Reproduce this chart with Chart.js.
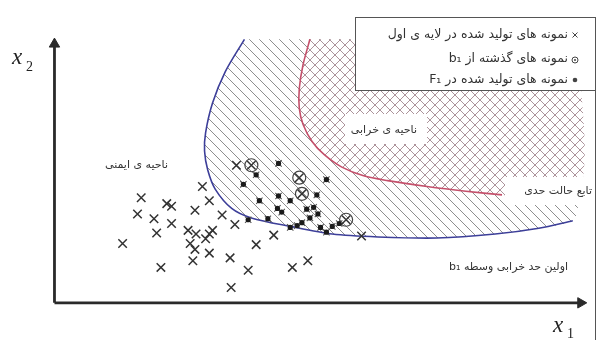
<!DOCTYPE html>
<html><head><meta charset="utf-8">
<script src="https://cdn.jsdelivr.net/npm/chart.js@4.4.1/dist/chart.umd.min.js"></script>
<style>html,body{margin:0;padding:0;background:#fff}#wrap{width:607px;height:344px}</style>
</head><body><div id="wrap"><canvas id="c" width="607" height="344"></canvas></div>
<script>
// ---- axis ranges (x1, x2 in arbitrary units, origin at the axes corner)
const xRange = [-0.879, 10.238];
const yRange = [-1.264, 11.155];

// first failure boundary (b1) - blue curve
const blueCurve = [
  {x:3.57,y:9.96},{x:3.21,y:8.74},{x:2.97,y:7.55},{x:2.84,y:6.43},{x:2.82,y:5.74},
  {x:2.88,y:5.02},{x:3.02,y:4.30},{x:3.33,y:3.57},{x:3.70,y:3.21},{x:4.43,y:2.89},
  {x:5.22,y:2.60},{x:6.08,y:2.49},{x:7.18,y:2.45},{x:8.28,y:2.60},{x:9.10,y:2.82},{x:9.74,y:3.10}
];
// limit state function - red curve
const redCurve = [
  {x:4.80,y:9.96},{x:4.67,y:8.99},{x:4.60,y:8.09},{x:4.60,y:7.36},{x:4.67,y:6.75},
  {x:4.84,y:6.10},{x:5.07,y:5.60},{x:5.40,y:5.13},{x:5.81,y:4.80},{x:6.26,y:4.62},
  {x:7.00,y:4.40},{x:7.73,y:4.22},{x:8.41,y:4.08}
];
// outer edges of the hatched regions
const hatchEdge = [{x:9.84,y:3.75},{x:9.84,y:9.96}];
const crossEdge = [{x:9.84,y:4.08},{x:9.84,y:9.96}];

// samples generated in the first layer (x)
const firstLayerSamples = [
  {x:1.63,y:3.97},{x:2.11,y:3.75},{x:2.20,y:3.65},{x:1.56,y:3.36},{x:1.87,y:3.18},
  {x:2.20,y:3.00},{x:2.64,y:3.50},{x:2.91,y:3.86},{x:2.78,y:4.40},{x:1.92,y:2.64},
  {x:1.28,y:2.24},{x:2.51,y:2.74},{x:2.66,y:2.60},{x:2.91,y:2.60},{x:2.97,y:2.74},
  {x:2.84,y:2.42},{x:2.55,y:2.24},{x:2.64,y:2.02},{x:2.91,y:1.88},{x:2.60,y:1.59},
  {x:2.00,y:1.34},{x:3.30,y:1.70},{x:3.64,y:1.23},{x:3.32,y:0.58},{x:3.79,y:2.20},
  {x:3.15,y:3.32},{x:3.39,y:2.96},{x:4.12,y:2.56},{x:4.47,y:1.34},{x:4.76,y:1.59},
  {x:3.42,y:5.20},{x:5.77,y:2.53},
  {x:3.70,y:5.20},{x:4.60,y:4.73},{x:4.65,y:4.12},{x:5.48,y:3.14}
];
// samples that passed b1 (circled)
const passedB1 = [{x:3.70,y:5.20},{x:4.60,y:4.73},{x:4.65,y:4.12},{x:5.48,y:3.14}];
// samples generated in F1 (dots)
const f1Samples = [
  {x:3.79,y:4.84},{x:4.21,y:5.27},{x:3.55,y:4.48},{x:5.11,y:4.66},{x:3.85,y:3.86},
  {x:4.21,y:4.04},{x:4.43,y:3.86},{x:4.93,y:4.08},{x:4.19,y:3.57},{x:4.27,y:3.43},
  {x:4.74,y:3.54},{x:4.87,y:3.61},{x:4.95,y:3.36},{x:4.80,y:3.21},{x:5.22,y:2.89},
  {x:5.00,y:2.85},{x:5.11,y:2.67},{x:4.43,y:2.85},{x:4.56,y:2.92},{x:3.64,y:3.14},
  {x:4.01,y:3.18},{x:4.65,y:3.03},{x:5.35,y:3.00}
];
const xAxisLine = [{x:0,y:0},{x:9.89,y:0}];
const yAxisLine = [{x:0,y:0},{x:0,y:9.78}];

const legendItems = ['نمونه های تولید شده در لایه ی اول','نمونه های گذشته از b₁','نمونه های تولید شده در F₁'];
const labelSafe = 'ناحیه ی ایمنی';
const labelFail = 'ناحیه ی خرابی';
const labelLimit = 'تابع حالت حدی';
const labelB1 = 'اولین حد خرابی وسطه b₁';

const canvas = document.getElementById('c');
const mainCtx = canvas.getContext('2d');
function makePattern(draw){
  const t=document.createElement('canvas'); t.width=10; t.height=10;
  const g=t.getContext('2d'); draw(g); return mainCtx.createPattern(t,'repeat');
}
const hatchPat = makePattern(g=>{
  g.strokeStyle='#8e8e8e'; g.lineWidth=1; g.beginPath();
  for(const k of [-10,0,10]){g.moveTo(k,0);g.lineTo(k+10,10);}
  g.stroke();
});
const crossPat = makePattern(g=>{
  g.fillStyle='#fff'; g.fillRect(0,0,10,10);
  g.strokeStyle='#ad949b'; g.lineWidth=1; g.beginPath();
  for(const k of [-10,0,10]){g.moveTo(k,0);g.lineTo(k+10,10);g.moveTo(k,10);g.lineTo(k+10,0);}
  g.stroke();
});

const annot = {
  id:'annot',
  afterDatasetsDraw(chart){
    const ctx=chart.ctx; ctx.save();
    ctx.fillStyle='#fff';
    ctx.fillRect(345,114,82,30);
    ctx.fillRect(505,177,91,28);
    ctx.fillRect(355,17,241,73);
    ctx.strokeStyle='#555'; ctx.lineWidth=1;
    ctx.strokeRect(355.5,17.5,240,73);
    ctx.beginPath(); ctx.moveTo(595.5,90); ctx.lineTo(595.5,340); ctx.stroke();
    // legend symbols
    ctx.strokeStyle='#444'; ctx.lineWidth=1;
    ctx.beginPath(); ctx.moveTo(572.5,32.5); ctx.lineTo(577.5,37.5); ctx.moveTo(577.5,32.5); ctx.lineTo(572.5,37.5); ctx.stroke();
    ctx.beginPath(); ctx.arc(575,60,3,0,Math.PI*2); ctx.stroke();
    ctx.fillStyle='#444'; ctx.beginPath(); ctx.arc(575,60,1,0,Math.PI*2); ctx.fill();
    ctx.beginPath(); ctx.arc(575,80,2.3,0,Math.PI*2); ctx.fill();
    // texts
    ctx.fillStyle='#333'; ctx.direction='rtl'; ctx.textAlign='right'; ctx.textBaseline='middle';
    ctx.font='12.5px "DejaVu Sans"';
    ctx.fillText(legendItems[0],568,35);
    ctx.fillText(legendItems[1],568,59);
    ctx.fillText(legendItems[2],568,80);
    ctx.font='11px "DejaVu Sans"';
    ctx.fillText(labelSafe,168,165);
    ctx.fillText(labelFail,417,130);
    ctx.fillText(labelLimit,592,191);
    ctx.fillText(labelB1,568,267);
    // axis titles
    ctx.direction='ltr'; ctx.textAlign='left'; ctx.textBaseline='alphabetic'; ctx.fillStyle='#222';
    ctx.font='italic 23px "Liberation Serif"';
    ctx.fillText('x',12,64);
    ctx.fillText('x',553,332);
    ctx.font='14px "Liberation Serif"';
    ctx.fillText('2',26,71);
    ctx.fillText('1',567,338);
    ctx.restore();
  }
};

new Chart(canvas,{
  type:'scatter',
  data:{datasets:[
    {data:[...blueCurve,...hatchEdge],showLine:true,fill:'shape',backgroundColor:hatchPat,borderColor:'rgba(0,0,0,0)',borderWidth:0,pointRadius:0,tension:0.3,order:10},
    {data:[...redCurve,...crossEdge],showLine:true,fill:'shape',backgroundColor:crossPat,borderColor:'rgba(0,0,0,0)',borderWidth:0,pointRadius:0,tension:0.3,order:9},
    {data:blueCurve,showLine:true,fill:false,borderColor:'#3d3f99',backgroundColor:'#3d3f99',borderWidth:1.6,pointRadius:0,tension:0.3,order:8},
    {data:redCurve,showLine:true,fill:false,borderColor:'#c4506b',backgroundColor:'#c4506b',borderWidth:1.6,pointRadius:0,tension:0.3,order:7},
    {data:xAxisLine,showLine:true,fill:false,borderColor:'#2a2a2a',backgroundColor:'#2a2a2a',borderWidth:2.8,pointRadius:[0,6],pointStyle:'triangle',pointRotation:90,pointBackgroundColor:'#2a2a2a',pointBorderColor:'#2a2a2a',pointBorderWidth:1,order:6},
    {data:yAxisLine,showLine:true,fill:false,borderColor:'#2a2a2a',backgroundColor:'#2a2a2a',borderWidth:2.8,pointRadius:[0,6],pointStyle:'triangle',pointRotation:0,pointBackgroundColor:'#2a2a2a',pointBorderColor:'#2a2a2a',pointBorderWidth:1,order:5},
    {data:firstLayerSamples,borderColor:'#333',backgroundColor:'#333',pointStyle:'crossRot',pointRadius:6,pointBorderColor:'#333',pointBorderWidth:1.5,order:4},
    {data:passedB1,borderColor:'#444',backgroundColor:'rgba(0,0,0,0)',pointStyle:'circle',pointRadius:6.5,pointBorderColor:'#444',pointBackgroundColor:'rgba(0,0,0,0)',pointBorderWidth:1.2,order:3},
    {data:f1Samples,borderColor:'#555',backgroundColor:'#555',pointStyle:'crossRot',pointRadius:4.5,pointBorderColor:'#555',pointBorderWidth:1.1,order:2},
    {data:f1Samples,borderColor:'#1a1a1a',backgroundColor:'#1a1a1a',pointStyle:'circle',pointRadius:2.6,pointBackgroundColor:'#1a1a1a',pointBorderColor:'#1a1a1a',pointBorderWidth:0,order:1}
  ]},
  options:{responsive:false,animation:false,events:[],layout:{padding:0},
    plugins:{legend:{display:false},tooltip:{enabled:false}},
    scales:{x:{type:'linear',display:false,min:xRange[0],max:xRange[1]},y:{type:'linear',display:false,min:yRange[0],max:yRange[1]}}
  },
  plugins:[annot]
});
</script></body></html>
